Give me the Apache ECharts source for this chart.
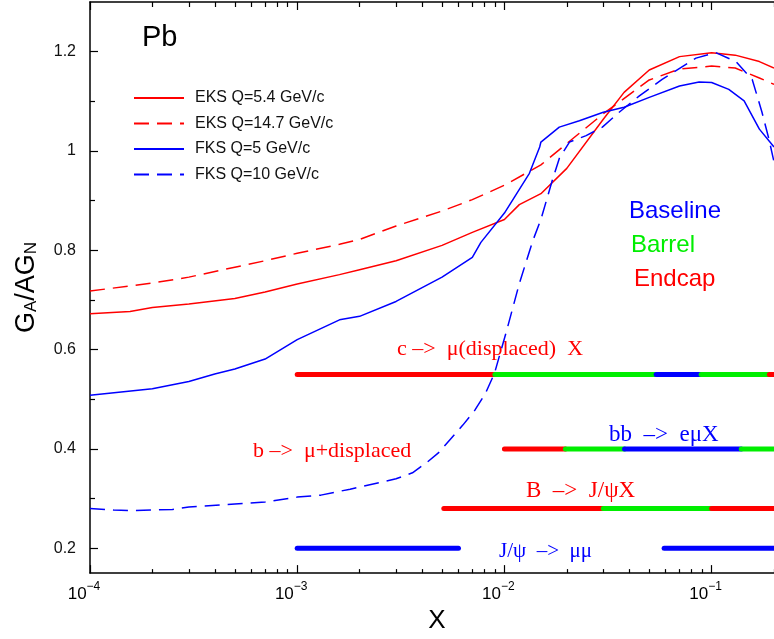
<!DOCTYPE html>
<html>
<head>
<meta charset="utf-8">
<script src="https://cdn.jsdelivr.net/npm/echarts@6/dist/echarts.min.js"></script>
<style>
  html, body { margin: 0; padding: 0; background: #fff; }
  #chart { width: 774px; height: 639px; }
</style>
</head>
<body>
<div id="chart"></div>
<script>
// curves: [x, G_A/AG_N]
const eksQ54 = [
  [1e-4, 0.672], [1.56e-4, 0.677], [2e-4, 0.685], [3e-4, 0.692], [5e-4, 0.703],
  [7e-4, 0.716], [1e-3, 0.732], [1.6e-3, 0.751], [2e-3, 0.761], [3e-3, 0.779],
  [5e-3, 0.810], [7e-3, 0.836], [1e-2, 0.862], [0.0118, 0.892], [0.015, 0.914],
  [0.02, 0.965], [0.03, 1.064], [0.0378, 1.118], [0.05, 1.163], [0.07, 1.190],
  [0.1, 1.198], [0.13, 1.193], [0.17, 1.180], [0.2, 1.167]
]
const eksQ147 = [
  [1e-4, 0.718], [2e-4, 0.734], [3e-4, 0.746], [5e-4, 0.766], [7e-4, 0.779],
  [1e-3, 0.794], [1.6e-3, 0.812], [2e-3, 0.822], [3e-3, 0.849], [5e-3, 0.879],
  [7e-3, 0.902], [1e-2, 0.931], [0.015, 0.972], [0.02, 1.015], [0.03, 1.075],
  [0.05, 1.143], [0.07, 1.165], [0.1, 1.171], [0.13, 1.167], [0.17, 1.147], [0.2, 1.134]
]
const fksQ5 = [
  [1e-4, 0.508], [2e-4, 0.521], [3e-4, 0.536], [4e-4, 0.551], [5e-4, 0.561],
  [7e-4, 0.581], [1e-3, 0.620], [1.6e-3, 0.660], [2e-3, 0.667], [3e-3, 0.697],
  [5e-3, 0.746], [7e-3, 0.786], [7.7e-3, 0.816], [1e-2, 0.875], [0.0132, 0.955],
  [0.0148, 1.008], [0.015, 1.018], [0.0184, 1.048], [0.023, 1.061], [0.03, 1.078],
  [0.0378, 1.088], [0.05, 1.108], [0.07, 1.131], [0.087, 1.139], [0.1, 1.138],
  [0.121, 1.124], [0.1435, 1.101], [0.17, 1.044], [0.2, 1.008]
]
const fksQ10 = [
  [1e-4, 0.280], [1.3e-4, 0.277], [1.6e-4, 0.276], [2.5e-4, 0.278], [3e-4, 0.283],
  [5e-4, 0.289], [7e-4, 0.293], [1e-3, 0.303], [1.3e-3, 0.307], [1.8e-3, 0.319],
  [3e-3, 0.340], [3.6e-3, 0.352], [4.2e-3, 0.372], [4.8e-3, 0.392], [5.5e-3, 0.420],
  [6.3e-3, 0.448], [7.2e-3, 0.478], [8.1e-3, 0.512], [8.95e-3, 0.552], [0.0102, 0.635],
  [0.0118, 0.733], [0.0137, 0.819], [0.015, 0.862], [0.017, 0.940], [0.0184, 0.985],
  [0.0206, 1.018], [0.0248, 1.031], [0.0297, 1.048], [0.0358, 1.078], [0.0448, 1.111],
  [0.0577, 1.144], [0.084, 1.187], [0.1047, 1.198], [0.131, 1.180], [0.157, 1.144],
  [0.175, 1.078], [0.189, 1.024], [0.2, 0.978]
]

// acceptance bars: level, [from, to, detector]
const cMuLevel = 0.55
const cMuBars = [[1e-3, 0.009, 'E'], [0.009, 0.054, 'R'], [0.054, 0.089, 'B'], [0.089, 0.19, 'R'], [0.19, 0.2, 'E']]
const bbLevel = 0.4
const bbBars = [[0.01, 0.0197, 'E'], [0.0197, 0.038, 'R'], [0.038, 0.139, 'B'], [0.139, 0.2, 'R']]
const bJpsiLevel = 0.28
const bJpsiBars = [[0.0051, 0.03, 'E'], [0.03, 0.1, 'R'], [0.1, 0.2, 'E']]
const jpsiLevel = 0.2
const jpsiBars = [[1e-3, 0.006, 'B'], [0.059, 0.2, 'B']]

const xMin = 1e-4
const xMax = 0.2
const xMajor = [1e-4, 1e-3, 1e-2, 1e-1]
const xMinor = []
for (let d = -4; d <= -1; d++) {
  for (let k = 2; k <= 9; k++) {
    const v = k * Math.pow(10, d)
    if (v <= xMax) xMinor.push(v)
  }
}
const yMajor = [0.2, 0.4, 0.6, 0.8, 1, 1.2]
const yMinor = [0.3, 0.5, 0.7, 0.9, 1.1]

const RED = '#ff0000'
const BLUE = '#0000ff'
const GREEN = '#00ee00'
const detColor = { B: BLUE, R: GREEN, E: RED }

const SANS = '"Liberation Sans", Arial, sans-serif'
const SERIF = '"Liberation Serif", "Times New Roman", serif'

const chart = echarts.init(document.getElementById('chart'))

function curve(name, data, color, dashed) {
  return {
    name: name,
    type: 'line',
    data: data,
    symbol: 'none',
    lineStyle: { color: color, width: 1.5, type: dashed ? [15, 8] : 'solid' },
    itemStyle: { color: color },
    z: 3
  }
}

function bars(level, list) {
  return list.map(function (b) {
    return {
      type: 'line',
      data: [[b[0], level], [b[1], level]],
      symbol: 'none',
      lineStyle: { color: detColor[b[2]], width: 5, cap: 'round' },
      silent: true,
      z: 2
    }
  })
}

// tick-only axes drawn in log10 space (log axis ignores customValues)
function tickAxis(pos, vals, len, withLine) {
  return {
    type: 'value',
    min: Math.log10(xMin),
    max: Math.log10(xMax),
    position: pos,
    axisLine: { show: !!withLine, onZero: false, lineStyle: { color: '#000', width: 1.5 } },
    axisTick: {
      show: true, inside: true, length: len,
      customValues: vals.map(function (v) { return Math.log10(v) }),
      lineStyle: { color: '#000', width: 1.2 }
    },
    axisLabel: { show: false },
    splitLine: { show: false }
  }
}

const series = [
  curve('EKS Q=5.4 GeV/c', eksQ54, RED, false),
  curve('EKS Q=14.7 GeV/c', eksQ147, RED, true),
  curve('FKS Q=5 GeV/c', fksQ5, BLUE, false),
  curve('FKS Q=10 GeV/c', fksQ10, BLUE, true)
].concat(bars(cMuLevel, cMuBars), bars(bbLevel, bbBars), bars(bJpsiLevel, bJpsiBars), bars(jpsiLevel, jpsiBars))

chart.setOption({
  backgroundColor: '#fff',
  animation: false,
  grid: { left: 90, right: -1, top: 2, bottom: 58, containLabel: false },
  legend: {
    data: series.slice(0, 4).map(function (s) { return s.name }),
    orient: 'vertical',
    left: 133,
    top: 90,
    padding: 0,
    itemWidth: 50,
    itemHeight: 16,
    itemGap: 9.5,
    selectedMode: false,
    itemStyle: { opacity: 0 },
    textStyle: { fontSize: 16, fontFamily: SANS, color: '#111', padding: [0, 0, 0, 6] }
  },
  xAxis: [
    {
      type: 'log',
      logBase: 10,
      min: xMin,
      max: xMax,
      position: 'bottom',
      name: 'X',
      nameLocation: 'middle',
      nameGap: 28,
      nameTextStyle: { fontSize: 26, fontFamily: SANS, color: '#000', padding: [0, 0, 0, 10] },
      axisLine: { show: true, onZero: false, lineStyle: { color: '#000', width: 1.5 } },
      axisTick: { show: false },
      axisLabel: {
        customValues: xMajor,
        margin: 8,
        padding: [0, 12, 0, 0],
        formatter: function (v) {
          return '{b|10}{e|\u2212' + Math.round(-Math.log10(v)) + '}'
        },
        rich: {
          b: { fontSize: 17, fontFamily: SANS, color: '#000', verticalAlign: 'bottom', lineHeight: 22 },
          e: { fontSize: 12, fontFamily: SANS, color: '#000', verticalAlign: 'top', lineHeight: 22 }
        }
      },
      splitLine: { show: false }
    },
    tickAxis('bottom', xMajor, 8),
    tickAxis('bottom', xMinor, 4),
    tickAxis('top', xMajor, 8, true),
    tickAxis('top', xMinor, 5)
  ],
  yAxis: [
    {
      type: 'value',
      min: 0.15,
      max: 1.3,
      name: '{m|G}{s|A}{m|/AG}{s|N}',
      nameLocation: 'middle',
      nameGap: 50,
      nameRotate: 90,
      nameTextStyle: {
        rich: {
          m: { fontSize: 27, fontFamily: SANS, color: '#000', verticalAlign: 'bottom', lineHeight: 34 },
          s: { fontSize: 17, fontFamily: SANS, color: '#000', verticalAlign: 'bottom', lineHeight: 26 }
        }
      },
      axisLine: { show: true, onZero: false, lineStyle: { color: '#000', width: 1.5 } },
      axisTick: { show: true, inside: true, length: 8, customValues: yMajor, lineStyle: { color: '#000', width: 1.2 } },
      axisLabel: {
        customValues: yMajor,
        margin: 14,
        fontSize: 16,
        fontFamily: SANS,
        color: '#111',
        formatter: function (v) { return String(+v.toFixed(1)) }
      },
      splitLine: { show: false }
    },
    {
      type: 'value',
      min: 0.15,
      max: 1.3,
      position: 'left',
      axisLine: { show: false },
      axisTick: { show: true, inside: true, length: 5, customValues: yMinor, lineStyle: { color: '#000', width: 1.2 } },
      axisLabel: { show: false },
      splitLine: { show: false }
    }
  ],
  graphic: [
    { type: 'text', left: 142, top: 23, style: { text: 'Pb', font: '29px ' + SANS, fill: '#000' } },
    { type: 'text', left: 629, top: 199, style: { text: 'Baseline', font: '24px ' + SANS, fill: BLUE } },
    { type: 'text', left: 631, top: 233, style: { text: 'Barrel', font: '24px ' + SANS, fill: GREEN } },
    { type: 'text', left: 634, top: 267, style: { text: 'Endcap', font: '24px ' + SANS, fill: RED } },
    { type: 'text', left: 397, top: 338, style: { text: 'c \u2013>  \u03bc(displaced)  X', font: '22px ' + SERIF, fill: RED } },
    { type: 'text', left: 253, top: 440, style: { text: 'b \u2013>  \u03bc+displaced', font: '22px ' + SERIF, fill: RED } },
    { type: 'text', left: 609, top: 423, style: { text: 'bb  \u2013>  e\u03bcX', font: '23px ' + SERIF, fill: BLUE } },
    { type: 'text', left: 526, top: 479, style: { text: 'B  \u2013>  J/\u03c8X', font: '23px ' + SERIF, fill: RED } },
    { type: 'text', left: 499, top: 541, style: { text: 'J/\u03c8  \u2013>  \u03bc\u03bc', font: '21px ' + SERIF, fill: BLUE } }
  ],
  series: series
})
</script>
</body>
</html>
